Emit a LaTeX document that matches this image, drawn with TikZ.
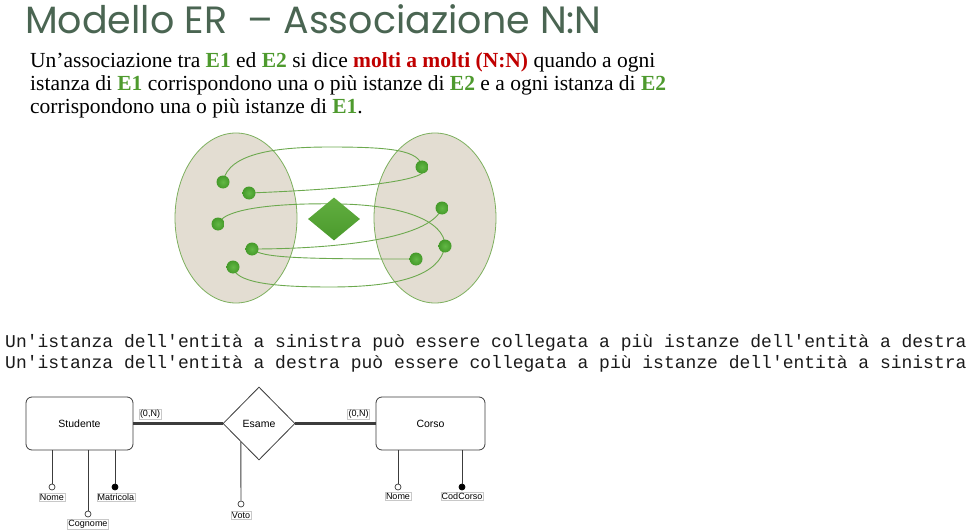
\documentclass[tikz,border=0pt]{standalone}
\usepackage{fontspec}
\setmainfont{Liberation Serif}
\newfontfamily\titlefont{Poppins}
\newfontfamily\codefont{Liberation Mono}
\newfontfamily\erfont{Liberation Sans}
\usetikzlibrary{shapes.geometric}

\definecolor{titlegray}{HTML}{4A6552}
\definecolor{egreen}{HTML}{4E9A2E}
\definecolor{mred}{HTML}{C00000}
\definecolor{setfill}{HTML}{E3DDD2}
\definecolor{setedge}{HTML}{7DB05E}
\definecolor{dotlight}{HTML}{62B845}
\definecolor{dotdark}{HTML}{459A2A}
\definecolor{diatop}{HTML}{62AE40}
\definecolor{diabot}{HTML}{4A9A2C}
\definecolor{linkgreen}{HTML}{6CA94E}
\definecolor{erline}{HTML}{3C3C3C}
\definecolor{lblbox}{HTML}{C8C8C8}
\definecolor{codeink}{HTML}{1A1A1A}

\newcommand{\Eone}{\textcolor{egreen}{\textbf{E1}}}
\newcommand{\Etwo}{\textcolor{egreen}{\textbf{E2}}}

\tikzset{
  para/.style={anchor=base west, inner sep=0pt, font=\fontsize{21.5}{23}\selectfont},
  codeline/.style={anchor=base west, inner sep=0pt, text=codeink,
    font=\codefont\fontsize{18}{20}\selectfont},
  setshape/.style={ellipse, draw=setedge, line width=0.8pt, fill=setfill,
    minimum width=122pt, minimum height=170pt, inner sep=0pt},
  dot/.style={circle, inner color=dotlight, outer color=dotdark, draw=none,
    minimum size=13pt, inner sep=0pt},
  link/.style={draw=linkgreen, line width=0.9pt},
  relmark/.style={diamond, minimum width=52pt, minimum height=43pt, inner sep=0pt,
    top color=diatop, bottom color=diabot, draw=none},
  entity/.style={draw=erline, line width=0.8pt, rounded corners=6pt, fill=white,
    minimum height=53pt, inner sep=0pt, font=\erfont\fontsize{10.5}{12}\selectfont},
  relation/.style={diamond, draw=erline, line width=0.8pt, fill=white,
    minimum width=72pt, minimum height=73pt, inner sep=0pt,
    font=\erfont\fontsize{10.5}{12}\selectfont},
  erlink/.style={draw=erline, line width=2.4pt},
  attrlink/.style={draw=erline, line width=0.9pt},
  attrO/.style={circle, draw=erline, fill=white, line width=0.7pt, minimum size=6pt, inner sep=0pt},
  attrK/.style={circle, draw=black, fill=black, line width=0.7pt, minimum size=6pt, inner sep=0pt},
  lbl/.style={draw=lblbox, line width=0.5pt, fill=white, inner sep=0.8pt,
    font=\erfont\fontsize{9}{10}\selectfont},
}

\begin{document}
\begin{tikzpicture}[x=1pt,y=-1pt]
\useasboundingbox (0,0) rectangle (972,532);

% title and text
\node[anchor=base west, inner sep=0pt, text=titlegray,
  font=\titlefont\fontsize{38}{40}\selectfont] (title) at (25,34) {Modello ER\ \ – Associazione N:N};
\node[para] (p1) at (30,68) {Un’associazione tra \Eone{} ed \Etwo{} si dice \textcolor{mred}{\textbf{molti a molti (N:N)}} quando a ogni};
\node[para] (p2) at (30,91) {istanza di \Eone{} corrispondono una o più istanze di \Etwo{} e a ogni istanza di \Etwo};
\node[para] (p3) at (30,114) {corrispondono una o più istanze di \Eone.};

% the two entity sets
\node[setshape] (setA) at (236,218) {};
\node[setshape] (setB) at (435,218) {};

% instance positions
\coordinate (l1) at (223,182);
\coordinate (l2) at (249,193);
\coordinate (l3) at (218,224);
\coordinate (l4) at (252,249);
\coordinate (l5) at (233,267);
\coordinate (r1) at (422,167);
\coordinate (r2) at (442,208);
\coordinate (r3) at (445,246);
\coordinate (r4) at (416,259);

% links between instances
\draw[link] (l1) .. controls (228,152) and (280,147) .. (330,147)
               .. controls (390,147) and (420,150) .. (r1);
\draw[link] (r1) .. controls (440,182) and (330,190) .. (l2);
\draw[link] (l3) .. controls (225,205) and (300,203) .. (340,204)
               .. controls (400,205) and (445,220) .. (r3);
\draw[link] (r3) .. controls (440,275) and (400,287) .. (330,287)
               .. controls (270,287) and (235,282) .. (l5);
\draw[link] (l4) .. controls (330,249) and (430,240) .. (r2);
\draw[link] (l4) .. controls (262,258) and (300,259) .. (r4);

% association symbol
\node[relmark] (assoc) at (334,219) {};

% instance dots
\foreach \p in {l1,l2,l3,l4,l5,r1,r2,r3,r4}
  \node[dot] (d\p) at (\p) {};

% description lines
\node[codeline] (c1) at (5,347) {Un'istanza dell'entità a sinistra può essere collegata a più istanze dell'entità a destra};
\node[codeline] (c2) at (5,368) {Un'istanza dell'entità a destra può essere collegata a più istanze dell'entità a sinistra};

% ER schema
\node[entity, minimum width=107pt] (stud) at (79.5,423.5) {Studente};
\node[relation] (esame) at (259,423.5) {Esame};
\node[entity, minimum width=109pt] (corso) at (430.5,423.5) {Corso};
\draw[erlink] (stud) -- (esame);
\draw[erlink] (esame) -- (corso);
\node[lbl] (card1) at (150,414.5) {(0,N)};
\node[lbl] (card2) at (358.5,414.5) {(0,N)};

% attributes of Studente
\node[attrO] (aNomeS) at (52,487) {};
\node[attrO] (aCogn) at (88,514) {};
\node[attrK] (aMatr) at (115,487) {};
\draw[attrlink] (stud.south -| aNomeS) -- (aNomeS);
\draw[attrlink] (stud.south -| aCogn) -- (aCogn);
\draw[attrlink] (stud.south -| aMatr) -- (aMatr);
\node[lbl] (tNomeS) at (52,497) {Nome};
\node[lbl] (tCogn) at (88,524) {Cognome};
\node[lbl] (tMatr) at (116,497) {Matricola};

% attribute of Esame
\node[attrO] (aVoto) at (241,504) {};
\draw[attrlink] (esame.south west) -- (aVoto);
\node[lbl] (tVoto) at (241,515.5) {Voto};

% attributes of Corso
\node[attrO] (aNomeC) at (398,487) {};
\node[attrK] (aCod) at (462,487) {};
\draw[attrlink] (corso.south -| aNomeC) -- (aNomeC);
\draw[attrlink] (corso.south -| aCod) -- (aCod);
\node[lbl] (tNomeC) at (398,496.5) {Nome};
\node[lbl] (tCod) at (462,496.5) {CodCorso};
\end{tikzpicture}
\end{document}
